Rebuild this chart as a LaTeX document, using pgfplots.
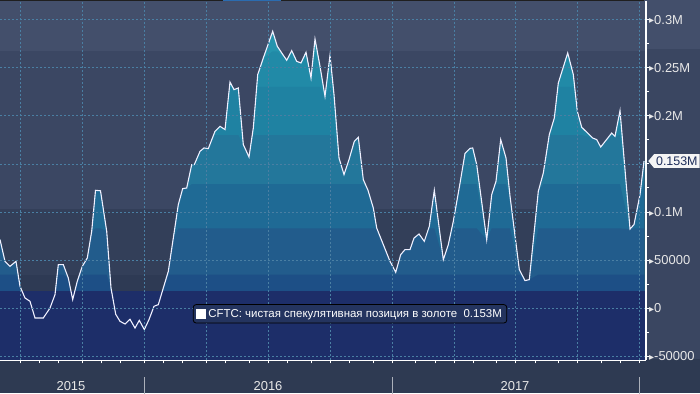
\documentclass[border=0pt]{standalone}
\usepackage{fontspec}
\setmainfont{Liberation Sans}
\newfontfamily\symf{DejaVu Sans}
\usepackage{pgfplots}
\pgfplotsset{compat=1.18}
\usepackage{pgfplotstable}
\usetikzlibrary{shapes.symbols}

\definecolor{bgmain}{HTML}{3A4661}
\definecolor{bgtop}{HTML}{434F6B}
\definecolor{bgmid}{HTML}{3B4763}
\definecolor{bglow}{HTML}{333F59}
\definecolor{bglower}{HTML}{2E3A54}
\definecolor{bgbottom}{HTML}{2E3A52}
\definecolor{navy}{HTML}{1D2E69}
\definecolor{cA}{HTML}{2594AE}
\definecolor{cB}{HTML}{218AA7}
\definecolor{cC}{HTML}{1F82A2}
\definecolor{cD}{HTML}{23779B}
\definecolor{cE}{HTML}{1F6A95}
\definecolor{cF}{HTML}{225C8C}
\definecolor{cG}{HTML}{1D4F86}
\definecolor{gridc}{HTML}{4A7FA3}
\definecolor{tickc}{HTML}{E8E8E8}
\definecolor{legfill}{HTML}{24345F}
\definecolor{tagtext}{HTML}{1D2D5A}
\definecolor{topblue}{HTML}{2B6CB0}

\newcommand\tri{{\symf\fontsize{10}{10}\selectfont\raisebox{0.3bp}{▸}}}

% x: position along the time axis (Jun 2015 .. Jan 2018), y: net position in thousands of contracts
\pgfplotstableread{
x y
0 71.4
5 48.8
10 43.6
16 48.8
20 22.9
25 10.7
30 7.3
35 -10.1
43.3 -10.1
50 0.3
55 14.2
58.3 45.4
63.3 45.4
68.3 31.5
72.7 9.0
77.3 28.1
82.3 43.6
87.3 52.3
91.7 80.0
95.5 122.6
100.5 122.1
106.7 80.0
111 21.1
115.7 -6.2
120 -13.5
125 -16.3
130 -11.4
135 -20.5
139.3 -12.5
144.3 -22.1
149 -11.7
154 2.1
158.3 3.8
163.3 21.1
168.3 38.4
173.3 73.0
178.3 107.7
182.7 124.4
186.7 125.0
191.7 149.3
194.3 149.3
200 163.1
204 166.6
208.3 165.9
215 183.9
220 189.1
225 185.7
230 235.1
234 227.2
238.3 228.9
243.3 170.1
249 157.2
253.3 187.3
257.7 242.8
263.3 260.1
272.7 287.8
277.3 272.2
286.7 257.7
291.7 267.7
296.7 256.6
301 254.9
306 266.0
311 239.3
315 279.8
320 251.4
325 220.3
330 262.9
334 222.0
339 156.2
344 138.9
349 154.5
354.3 173.5
358.3 177.7
363.3 133.7
368 122.6
373.3 104.2
376.7 83.4
383.3 66.2
390 48.8
395.7 37.4
400.7 55.8
405 61.0
410 61.0
414 73.0
419 77.2
424.3 69.6
429.3 85.2
434.3 122.6
443.3 50.6
448.3 66.2
453.3 90.4
460 129.9
465 161.0
470 166.2
472.7 166.6
476.7 149.3
486.7 71.4
491.7 118.1
496 132.0
500.7 175.3
506 156.2
510 116.4
519.3 40.2
525 28.8
529.3 29.8
538.3 121.6
543.3 140.6
549.3 180.5
554.3 197.7
558.3 234.1
567.7 265.3
573.3 242.8
577.3 204.7
581.7 188.1
592.7 176.9
596.7 175.3
600.7 167.6
611.7 182.1
615 178.7
620 205.4
630 82.4
634 87.0
640 118.1
644 153.0
}\cftc

\begin{document}
\begin{tikzpicture}[x=1bp,y=1bp]
\begin{scope}
\clip (0,0) rectangle (700,393);
\fill[bgmain] (0,0) rectangle (700,393);
\fill[bgtop] (0,344.3) rectangle (700,393);
\fill[bgbottom] (0,0) rectangle (700,34);
\begin{axis}[
  axis on top,
  at={(0,34)}, anchor=south west,
  scale only axis, width=646bp, height=359bp,
  xmin=0, xmax=646, ymin=-54, ymax=319,
  axis x line=bottom, axis y line=right,
  axis line style={draw=white, line width=1.2bp, -},
  tick align=outside,
  major tick length=3bp, minor tick length=3bp,
  tick style={white, line width=1bp},
  xtick={20.7,82.3,144.3,206.7,268.3,330,392.3,454.3,515,577.3,639.5},
  xticklabels={},
  minor xtick={39.3,58.3,101,120,163.3,182.3,225.7,249.3,287.3,311,349.3,373.3,415.7,435.7,473.3,496,535,558.3,601.7,620.7},
  ytick={-50,0,50,100,150,200,250,300},
  yticklabels={\tri-50000,\tri0,\tri50000,\tri0.1M,,\tri0.2M,\tri0.25M,\tri0.3M},
  minor y tick num=1,
  yticklabel style={font=\fontsize{13}{13}\selectfont, text=tickc, anchor=west, inner sep=0bp},
  xmajorgrids, ymajorgrids,
  grid style={gridc, dash pattern=on 2bp off 2bp, line width=0.7bp},
  clip=false,
  legend style={at={(axis cs:350,-5.7)}, anchor=center, fill=legfill, draw=black, line width=0.8bp,
    rounded corners=3bp, text=white, font=\fontsize{11.5}{13}\selectfont, inner xsep=3bp, inner ysep=2.5bp},
  legend cell align=left,
]
% background bands of the plot area
\fill[bglower] (axis cs:0,17.6) rectangle (axis cs:646,35);
\fill[bglow] (axis cs:0,35) rectangle (axis cs:646,103);
\fill[bgmid] (axis cs:0,103) rectangle (axis cs:646,267);
\fill[bgtop] (axis cs:0,267) rectangle (axis cs:646,319);
% banded area under the curve
\addplot[forget plot, draw=none, fill=cA] table {\cftc} \closedcycle;
\addplot[forget plot, draw=none, fill=cB, y filter/.expression={min(y,267)}] table {\cftc} \closedcycle;
\addplot[forget plot, draw=none, fill=cC, y filter/.expression={min(y,230)}] table {\cftc} \closedcycle;
\addplot[forget plot, draw=none, fill=cD, y filter/.expression={min(y,180)}] table {\cftc} \closedcycle;
\addplot[forget plot, draw=none, fill=cE, y filter/.expression={min(y,129)}] table {\cftc} \closedcycle;
\addplot[forget plot, draw=none, fill=cF, y filter/.expression={min(y,83)}] table {\cftc} \closedcycle;
\addplot[forget plot, draw=none, fill=cG, y filter/.expression={min(y,35)}] table {\cftc} \closedcycle;
\fill[navy] (axis cs:0,-54) rectangle (axis cs:646,17.6);
% the series
\addplot[color=white!94!blue, line width=1.1bp, mark=none,
  legend image code/.code={\fill[white, sharp corners] (0bp,-4.5bp) rectangle (9bp,4.5bp);}] table {\cftc};
\addlegendentry{CFTC: чистая спекулятивная позиция в золоте\ \ 0.153M}
% year separators and labels
\draw[white!60!bgbottom, line width=1bp] (axis cs:144.3,-71.7) -- (axis cs:144.3,-90);
\draw[white!60!bgbottom, line width=1bp] (axis cs:392.3,-71.7) -- (axis cs:392.3,-90);
\draw[white!60!bgbottom, line width=1bp] (axis cs:639.5,-71.7) -- (axis cs:639.5,-90);
\node[text=tickc, font=\fontsize{13}{13}\selectfont] at (axis cs:71,-81) {2015};
\node[text=tickc, font=\fontsize{13}{13}\selectfont] at (axis cs:268,-81) {2016};
\node[text=tickc, font=\fontsize{13}{13}\selectfont] at (axis cs:515,-81) {2017};
% last value tag
\node[signal, signal to=west, signal pointer angle=100, fill=white!96!black, text=tagtext,
  font=\fontsize{12.5}{12.5}\selectfont, inner xsep=2bp, inner ysep=2.5bp, anchor=west]
  at (axis cs:648,153) {0.153M};
\end{axis}
\fill[black!88] (0,392) rectangle (644,393);
\fill[topblue] (223,392) rectangle (281,393);
\end{scope}
\pgfresetboundingbox
\useasboundingbox (0,0) rectangle (700,393);
\end{tikzpicture}
\end{document}
